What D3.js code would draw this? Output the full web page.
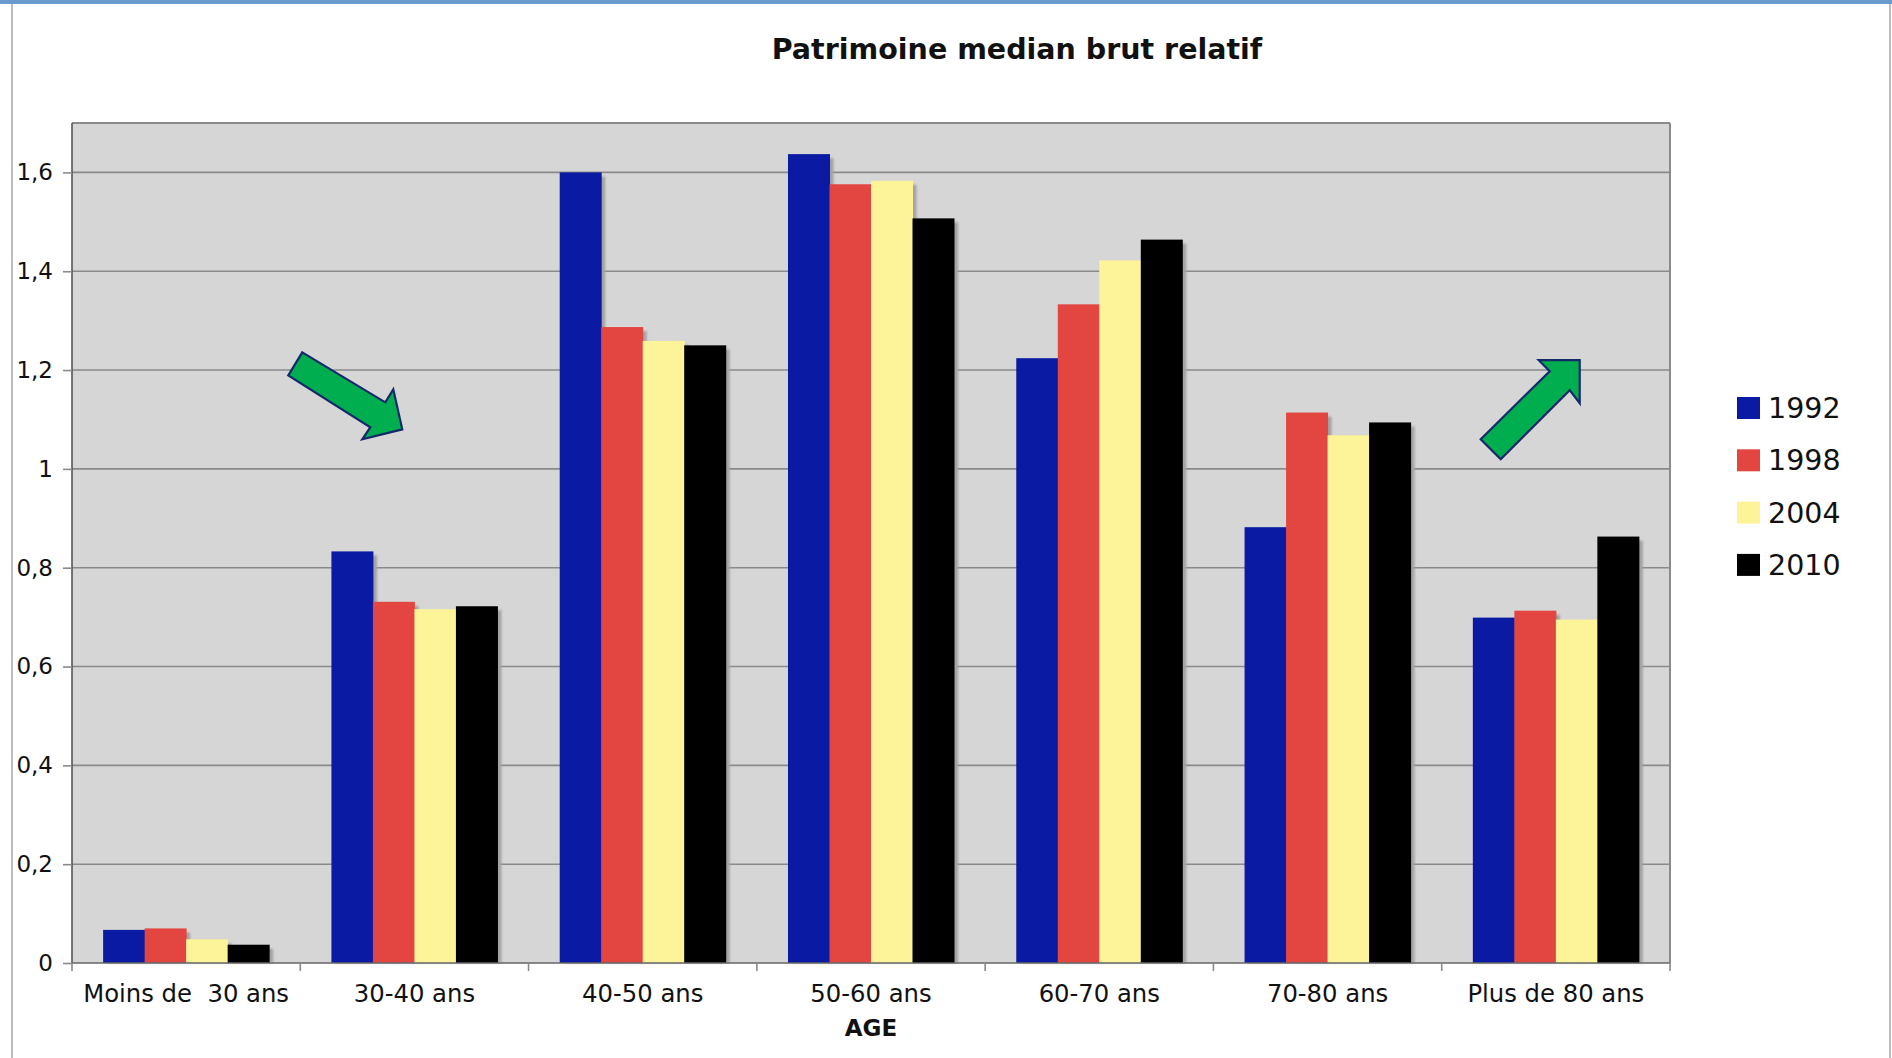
<!DOCTYPE html>
<html>
<head>
<meta charset="utf-8">
<script src="https://cdn.jsdelivr.net/npm/d3@7"></script>
<style>
  html, body { margin: 0; padding: 0; background: #fff; }
  svg { display: block; }
  text { font-family: "DejaVu Sans", Verdana, sans-serif; fill: #111; }
</style>
</head>
<body>
<svg id="chart" width="1892" height="1058"></svg>
<script>
// Age brackets on the x axis
const categories = ["Moins de  30 ans", "30-40 ans", "40-50 ans", "50-60 ans", "60-70 ans", "70-80 ans", "Plus de 80 ans"];
// Survey years (series)
const years = ["1992", "1998", "2004", "2010"];
// Relative gross median wealth, one array per survey year
const v1992 = [0.067, 0.833, 1.600, 1.637, 1.224, 0.882, 0.699];
const v1998 = [0.070, 0.731, 1.287, 1.576, 1.333, 1.114, 0.713];
const v2004 = [0.048, 0.716, 1.259, 1.583, 1.422, 1.068, 0.695];
const v2010 = [0.037, 0.722, 1.250, 1.507, 1.464, 1.094, 0.863];
const yTicks = [0, 0.2, 0.4, 0.6, 0.8, 1, 1.2, 1.4, 1.6];
const colors = ["#0a1aa3", "#e34540", "#fdf49a", "#000000"];

const series = [v1992, v1998, v2004, v2010];

const svg = d3.select("#chart");
const W = 1892, H = 1058;

// page frame: light border on the left/right and a blue strip at the top
svg.append("rect").attr("x", 0).attr("y", 0).attr("width", W).attr("height", 4).attr("fill", "#6b9bcc");
svg.append("line").attr("x1", 12).attr("x2", 12).attr("y1", 4).attr("y2", H).attr("stroke", "#bdbdbd").attr("stroke-width", 2);
svg.append("line").attr("x1", 1890).attr("x2", 1890).attr("y1", 4).attr("y2", H).attr("stroke", "#bdbdbd").attr("stroke-width", 2);

const plot = { left: 72, right: 1670, top: 123, bottom: 963 };

const x = d3.scaleBand().domain(categories).range([plot.left, plot.right]).paddingInner(0).paddingOuter(0);
const y = d3.scaleLinear().domain([0, 1.7]).range([plot.bottom, plot.top]);
const xs = d3.scaleBand().domain(years).range([0, x.bandwidth()]).paddingOuter(0.75).paddingInner(0);

const fr = d3.formatLocale({ decimal: ",", thousands: " ", grouping: [3], currency: ["", " €"] });
const fmt = fr.format("~g");

// plot background
svg.append("rect")
  .attr("x", plot.left).attr("y", plot.top)
  .attr("width", plot.right - plot.left).attr("height", plot.bottom - plot.top)
  .attr("fill", "#d6d6d6");

// horizontal gridlines
svg.append("g").selectAll("line").data(yTicks.filter(d => d > 0)).join("line")
  .attr("x1", plot.left).attr("x2", plot.right)
  .attr("y1", d => y(d)).attr("y2", d => y(d))
  .attr("stroke", "#8a8a8a").attr("stroke-width", 1.6);

// soft shadow behind bars
const defs = svg.append("defs");
defs.append("filter").attr("id", "soft").append("feGaussianBlur").attr("stdDeviation", 0.8);

const rows = [];
categories.forEach((c, i) => {
  years.forEach((yr, j) => rows.push({ cat: c, year: yr, value: series[j][i], color: colors[j] }));
});

const bars = svg.append("g");
bars.selectAll("rect.shadow").data(rows).join("rect")
  .attr("class", "shadow")
  .attr("x", d => x(d.cat) + xs(d.year) + 4)
  .attr("y", d => y(d.value) + 4)
  .attr("width", xs.bandwidth())
  .attr("height", d => plot.bottom - y(d.value) - 4)
  .attr("fill", "#a3a3a3")
  .attr("filter", "url(#soft)");
bars.selectAll("rect.bar").data(rows).join("rect")
  .attr("class", "bar")
  .attr("x", d => x(d.cat) + xs(d.year))
  .attr("y", d => y(d.value))
  .attr("width", xs.bandwidth() + 0.5)
  .attr("height", d => plot.bottom - y(d.value))
  .attr("fill", d => d.color);

// plot border (top / right) and axis lines
svg.append("line").attr("x1", plot.left).attr("x2", plot.right).attr("y1", plot.top).attr("y2", plot.top).attr("stroke", "#8a8a8a").attr("stroke-width", 2);
svg.append("line").attr("x1", plot.right).attr("x2", plot.right).attr("y1", plot.top).attr("y2", plot.bottom).attr("stroke", "#8a8a8a").attr("stroke-width", 2);

// y axis
const yAxis = svg.append("g").attr("transform", `translate(${plot.left},0)`)
  .call(d3.axisLeft(y).tickValues(yTicks).tickFormat(fmt).tickSize(9).tickPadding(10));
yAxis.select(".domain").attr("stroke", "#555").attr("stroke-width", 1.6).attr("d", `M0,${plot.top}V${plot.bottom}`);
yAxis.selectAll(".tick line").attr("stroke", "#8a8a8a").attr("stroke-width", 1.6);
yAxis.selectAll(".tick text").style("font-size", "23px").style("font-family", "DejaVu Sans, Verdana, sans-serif").attr("fill", "#111");

// x axis: ticks at band edges, labels centred in each band
const xAxisG = svg.append("g");
xAxisG.append("line").attr("x1", plot.left).attr("x2", plot.right).attr("y1", plot.bottom).attr("y2", plot.bottom)
  .attr("stroke", "#666").attr("stroke-width", 1.6);
const edges = categories.map(c => x(c)).concat([x(categories[categories.length - 1]) + x.bandwidth()]);
xAxisG.selectAll("line.tk").data(edges).join("line").attr("class", "tk")
  .attr("x1", d => d).attr("x2", d => d).attr("y1", plot.bottom).attr("y2", plot.bottom + 8)
  .attr("stroke", "#8a8a8a").attr("stroke-width", 1.6);
xAxisG.selectAll("text").data(categories).join("text")
  .attr("x", d => x(d) + x.bandwidth() / 2)
  .attr("y", plot.bottom + 39)
  .attr("text-anchor", "middle")
  .style("font-size", "24.3px")
  .style("white-space", "pre")
  .attr("xml:space", "preserve")
  .text(d => d);

// axis title
svg.append("text").attr("x", (plot.left + plot.right) / 2).attr("y", 1036)
  .attr("text-anchor", "middle").style("font-size", "23px").style("font-weight", "bold").text("AGE");

// chart title
svg.append("text").attr("x", 1017).attr("y", 59)
  .attr("text-anchor", "middle").style("font-size", "28.5px").style("font-weight", "bold").text("Patrimoine median brut relatif");

// legend
const legend = svg.append("g").attr("transform", "translate(1737,397)");
const li = legend.selectAll("g").data(years).join("g").attr("transform", (d, i) => `translate(0,${i * 52.3})`);
li.append("rect").attr("width", 23).attr("height", 22).attr("fill", (d, i) => colors[i]);
li.append("text").attr("x", 31).attr("y", 21).style("font-size", "28.5px").text(d => d);

// trend arrows (annotations), anchored on the axes
function arrow(points, ax, ay) {
  svg.append("polygon")
    .attr("points", points.map(p => [ax + p[0], ay + p[1]].join(",")).join(" "))
    .attr("fill", "#00ad4f").attr("stroke", "#14286a").attr("stroke-width", 2.2).attr("stroke-linejoin", "miter");
}
// falling arrow above the 30-40 bracket
arrow([[-100, -77], [-17, -27], [-9, -40], [0, 0], [-40, 10], [-32, -2], [-114, -54]],
  x(categories[1]) + 102, y(1.08));
// rising arrow above the oldest bracket
arrow([[-99, 79], [-30, 11], [-41, 0], [0, 0], [0, 43], [-10, 30], [-79, 99]],
  x(categories[6]) + 138, y(1.22));
</script>
</body>
</html>
